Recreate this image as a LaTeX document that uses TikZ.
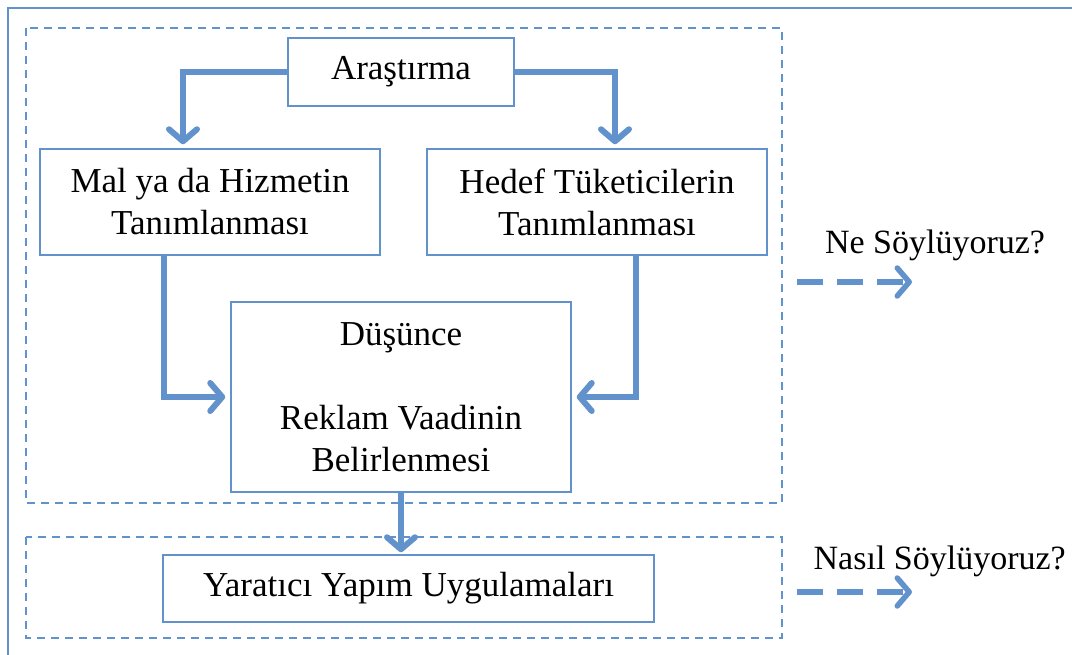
\documentclass[tikz,border=0pt]{standalone}
\usepackage{fontspec}
\setmainfont{Liberation Serif}
\usetikzlibrary{arrows.meta, positioning}
\definecolor{flowblue}{RGB}{97,146,204}
\tikzset{
  stepbox/.style={draw=flowblue, line width=1.5pt, align=center, inner sep=0pt, fill=white},
  groupframe/.style={draw=flowblue, line width=1.5pt, dash pattern=on 8pt off 6pt},
  sidenote/.style={inner sep=0pt, font=\fontsize{34}{42}\selectfont},
  flowarrow/.style={draw=flowblue, line width=6pt, line join=miter,
    -{Straight Barb[length=12pt, width=28pt, line cap=round, line join=round]}},
  hintarrow/.style={draw=flowblue, line width=5.5pt, dash pattern=on 26pt off 14pt,
    -{Straight Barb[length=12pt, width=28pt, line cap=round, line join=round]}}
}

\begin{document}
\begin{tikzpicture}[x=1pt, y=-1pt, font=\fontsize{35}{42}\selectfont]
  \path[use as bounding box, clip] (0,0) rectangle (1072,655);
  % outer frame (runs off the page)
  \draw[flowblue, line width=2pt] (8,700) -- (8,8) -- (1100,8);
  % group frames
  \draw[groupframe] (26,28) rectangle (782,503);
  \draw[groupframe] (26,537) rectangle (782,638);
  % steps
  \node[stepbox, minimum width=226pt, minimum height=68pt] (ara) at (401,72) {Araştırma};
  \node[stepbox, minimum width=340pt, minimum height=106pt] (mal) at (210,202)
    {Mal ya da Hizmetin\\Tanımlanması};
  \node[stepbox, minimum width=340pt, minimum height=106pt] (hed) at (597,202)
    {Hedef Tüketicilerin\\Tanımlanması};
  \node[stepbox, minimum width=340pt, minimum height=190pt] (dus) at (401,397)
    {Düşünce\\[42pt]Reklam Vaadinin\\Belirlenmesi};
  \node[stepbox, minimum width=491pt, minimum height=67pt] (yar) at (408.5,588.5)
    {Yaratıcı Yapım Uygulamaları};
  % connectors
  \draw[flowarrow, shorten >=4pt] (ara.west) -| ([xshift=-27pt]mal.north);
  \draw[flowarrow, shorten >=4pt] (ara.east) -| ([xshift=18pt]hed.north);
  \draw[flowarrow, shorten >=5pt] ([xshift=-46pt]mal.south) |- (dus.west);
  \draw[flowarrow, shorten >=5pt] ([xshift=39pt]hed.south) |- (dus.east);
  \draw[flowarrow, shorten >=2pt] (dus.south) -- (dus.south |- yar.north);
  % side notes
  \node[sidenote] (lblA) at (935,245) {Ne Söylüyoruz?};
  \node[sidenote, anchor=east] (lblB) at (1066,561) {Nasıl Söylüyoruz?};
  \coordinate (hintA) at (797,282);
  \coordinate (hintAend) at (912,282);
  \coordinate (hintB) at (797,592);
  \coordinate (hintBend) at (912,592);
  \draw[hintarrow] (hintA) -- (hintAend);
  \draw[hintarrow] (hintB) -- (hintBend);
\end{tikzpicture}
\end{document}
